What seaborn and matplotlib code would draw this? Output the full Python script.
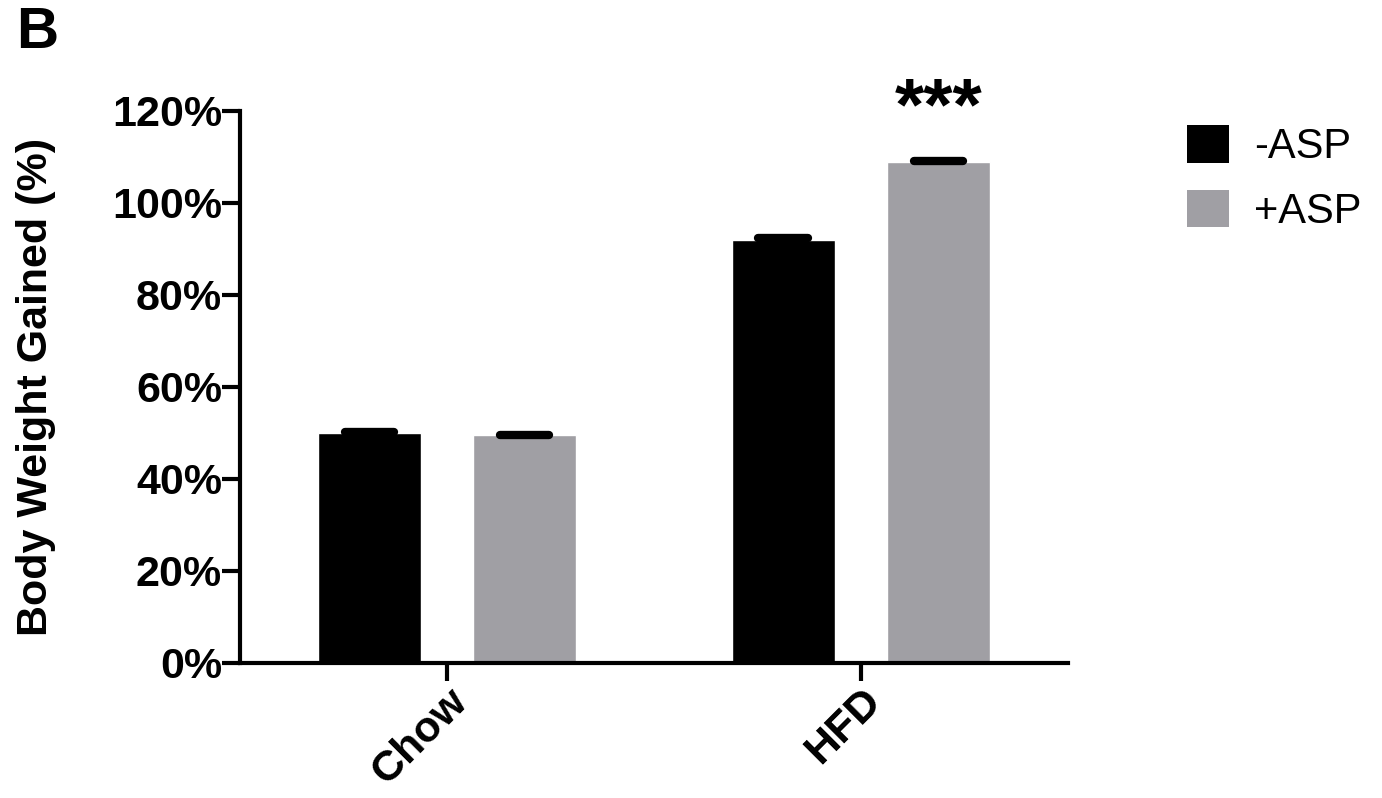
import pandas as pd
import matplotlib
matplotlib.use("Agg")
import matplotlib.pyplot as plt
import seaborn as sns
from matplotlib.patches import Patch
from matplotlib.ticker import FuncFormatter

# data
diets = ["Chow", "HFD"]
groups = ["-ASP", "+ASP"]
mean_minus = [50.0, 92.0]
mean_plus = [49.5, 108.9]
sem_minus = [0.3, 0.3]
sem_plus = [0.15, 0.15]
yticks = [0, 20, 40, 60, 80, 100, 120]

df = pd.DataFrame({
    "diet": diets * 2,
    "group": [groups[0]] * 2 + [groups[1]] * 2,
    "gain": mean_minus + mean_plus,
    "sem": sem_minus + sem_plus,
})

sns.set_style("ticks")
plt.rcParams["font.family"] = ["Liberation Sans", "DejaVu Sans"]
plt.rcParams["text.color"] = "black"
plt.rcParams["axes.labelcolor"] = "black"
plt.rcParams["xtick.color"] = "black"
plt.rcParams["ytick.color"] = "black"
plt.rcParams["axes.edgecolor"] = "black"
colors = {"-ASP": "#000000", "+ASP": "#a09fa4"}

fig = plt.figure(figsize=(13.82, 7.98), dpi=100)
ax = fig.add_axes([0.1737, 0.1692, 0.599, 0.6918])

sns.barplot(data=df, x="diet", y="gain", hue="group", order=diets, hue_order=groups,
            palette=colors, width=0.75, gap=0.333, errorbar=None, legend=False,
            saturation=1, ax=ax)

# error bars (upper only) at bar centres, rounded caps
for patch, (_, row) in zip(ax.patches, df.iterrows()):
    xc = patch.get_x() + patch.get_width() / 2
    top = row["gain"] + row["sem"]
    ax.vlines(xc, row["gain"], top, color="black", lw=3, zorder=5)
    half = patch.get_width() * 0.24
    ax.plot([xc - half, xc + half], [top, top], color="black", lw=6,
            solid_capstyle="round", zorder=6)

ax.set_xlim(-0.5, 1.5)
ax.set_ylim(0, 120)
ax.set_yticks(yticks)
ax.yaxis.set_major_formatter(FuncFormatter(lambda v, p: f"{int(v)}%"))
ax.set_xlabel("")
ax.set_ylabel("Body Weight Gained (%)", fontsize=31, fontweight="bold", labelpad=40)
sns.despine(ax=ax)
for s in ["left", "bottom"]:
    ax.spines[s].set_linewidth(3)
ax.tick_params(axis="both", width=3, length=13, labelsize=31, pad=0)
for lab in ax.get_yticklabels():
    lab.set_fontweight("bold")
for lab in ax.get_xticklabels():
    lab.set_fontweight("bold")
    lab.set_rotation(45)
    lab.set_ha("right")
    lab.set_rotation_mode("anchor")

# significance marker
hfd_plus = ax.patches[3]
ax.text(hfd_plus.get_x() + hfd_plus.get_width() / 2, 120.3, "***",
        ha="center", va="center", fontsize=54, fontweight="bold")

handles = [Patch(facecolor=colors[g], edgecolor="none") for g in groups]
fig.legend(handles, groups, loc="upper left", bbox_to_anchor=(0.859, 0.843),
           frameon=False, fontsize=30, handlelength=1.0, handleheight=1.0,
           handletextpad=0.6, labelspacing=0.55, borderaxespad=0, borderpad=0)

fig.text(0.012, 0.992, "B", fontsize=42, fontweight="bold", va="top", ha="left")

fig.savefig("out.png", dpi=100)
